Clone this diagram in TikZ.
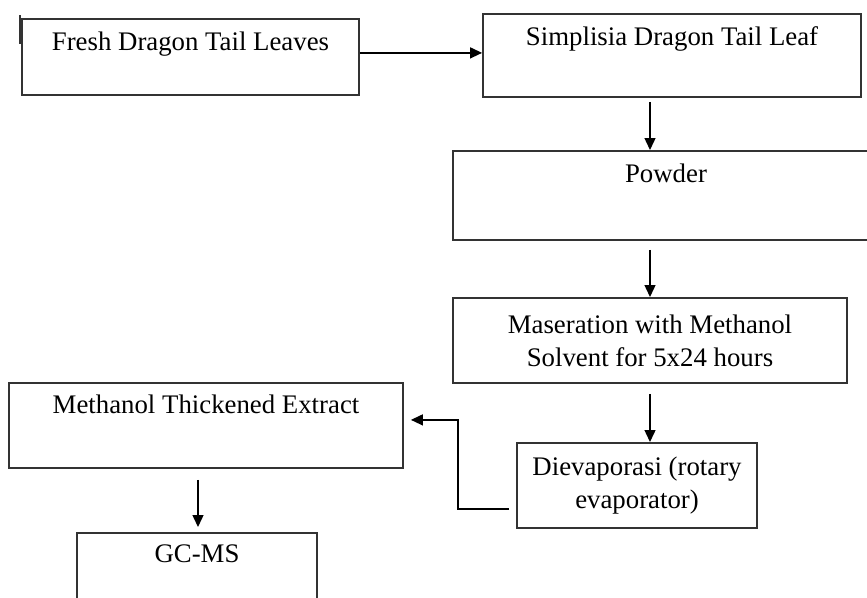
\documentclass[tikz,border=0pt]{standalone}
\usepackage{fontspec}
\setmainfont{Liberation Serif}
\usepackage{xcolor}
\usepackage{tikz}
\usetikzlibrary{calc,arrows.meta}
\definecolor{rim}{HTML}{333333}
\definecolor{ink}{HTML}{000000}
\tikzset{
  topbox/.style={draw=rim, line width=1.8pt, inner sep=0pt, text height=32pt, anchor=north, text=ink, font=\fontsize{26.8}{33}\selectfont},
  midbox/.style={draw=rim, line width=1.8pt, inner sep=0pt, align=center, anchor=north, text=ink, font=\fontsize{26.8}{33}\selectfont},
  flow/.style={draw=ink, line width=1.4pt, -{Triangle[length=12pt,width=11pt]}}
}

\begin{document}
\begin{tikzpicture}[x=1pt, y=-1pt]
  \useasboundingbox (0,0) rectangle (867,597);

  \node[topbox, minimum width=337pt, text depth=44pt] (leaves) at (190.5,18) {Fresh Dragon Tail Leaves};
  \node[topbox, minimum width=378pt, text depth=51pt] (simplisia) at (672,13) {Simplisia Dragon Tail Leaf};
  \node[topbox, minimum width=426pt, text depth=57pt] (powder) at (666,150) {Powder};
  \node[midbox, minimum width=394pt, minimum height=85pt] (maser) at (650,297) {Maseration with Methanol\\Solvent for 5x24 hours};
  \node[topbox, minimum width=394pt, text height=31pt, text depth=54pt] (extract) at (206,382) {Methanol Thickened Extract};
  \node[midbox, minimum width=240pt, minimum height=85pt] (evap) at (637,442) {Dievaporasi (rotary\\evaporator)};
  \node[topbox, minimum width=240pt, text height=30pt, text depth=58pt] (gcms) at (197,532) {GC-MS};

  \draw[rim, line width=1.8pt] ([xshift=-1pt,yshift=3pt]leaves.north west) -- ++(0,29);

  \coordinate (a1) at ([yshift=4pt]leaves.east);
  \draw[flow] (a1) -- (a1 -| simplisia.west);
  \coordinate (a2) at ([xshift=-22pt,yshift=-4pt]simplisia.south);
  \draw[flow] (a2) -- (a2 |- powder.north);
  \coordinate (a3) at ([xshift=-16pt,yshift=-9pt]powder.south);
  \draw[flow] (a3) -- (a3 |- maser.north);
  \coordinate (a4) at ([yshift=-10pt]maser.south);
  \draw[flow] (a4) -- (a4 |- evap.north);
  \coordinate (a5) at ([xshift=-7pt,yshift=-23.5pt]evap.west);
  \coordinate (a6) at ([xshift=7pt,yshift=5.5pt]extract.east);
  \draw[flow] (a5) -- ++(-51,0) |- (a6);
  \coordinate (a7) at ([xshift=-8pt,yshift=-11pt]extract.south);
  \draw[flow, shorten >=5pt] (a7) -- (a7 |- gcms.north);
\end{tikzpicture}
\end{document}
